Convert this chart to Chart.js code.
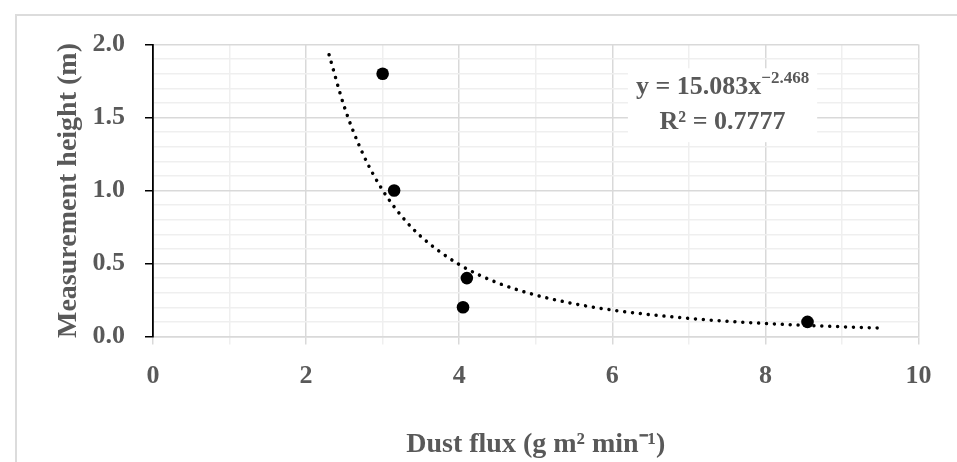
<!DOCTYPE html>
<html>
<head>
<meta charset="utf-8">
<script src="https://cdn.jsdelivr.net/npm/chart.js@4.4.0/dist/chart.umd.min.js"></script>
<style>
  html, body { margin: 0; padding: 0; background: #ffffff; }
  #wrap { position: relative; width: 957px; height: 462px; overflow: hidden; }
  #frame { position: absolute; left: 15px; top: 14px; width: 2000px; height: 2000px;
           border-left: 2px solid #dcdcdc; border-top: 2px solid #dcdcdc; }
  canvas { position: absolute; left: 0; top: 0; }
</style>
</head>
<body>
<div id="wrap">
  <div id="frame"></div>
  <canvas id="c" width="957" height="462"></canvas>
</div>
<script>
// ---- data ----
const fluxValues   = [3.0, 3.15, 4.1, 4.05, 8.55];
const heightValues = [1.8, 1.0, 0.4, 0.2, 0.1];
// dotted power trendline
const trendX = [2.3, 2.5, 2.75, 3.0, 3.25, 3.5, 4.0, 4.5, 5.0, 5.5, 6.0, 7.0, 8.0, 9.0, 9.5];
const trendY = [1.930, 1.572, 1.242, 1.002, 0.823, 0.685, 0.493, 0.368, 0.284, 0.2245, 0.181, 0.124, 0.0891, 0.0666, 0.0583];
const xTickLabels = ['0', '2', '4', '6', '8', '10'];
const yTickLabels = ['0.0', '0.5', '1.0', '1.5', '2.0'];
const xTitle = 'Dust flux (g m² min⁻¹)';
const yTitle = 'Measurement height (m)';
const eqMain = 'y = 15.083x';
const eqExp = '−2.468';
const eqR2 = 'R² = 0.7777';
const eqAnchor = { x: 7.44, y1: 1.707, y2: 1.468 };

const TEXT = '#595959';
const FONT = "'Liberation Serif', 'Times New Roman', serif";
const MAJOR = '#d9d9d9';
const MINOR = '#efefef';

const scatterPts = fluxValues.map((v, i) => ({ x: v, y: heightValues[i] }));
const trendPts = trendX.map((v, i) => ({ x: v, y: trendY[i] }));

const isMajorY = v => Math.abs(v * 2 - Math.round(v * 2)) < 1e-6;
const isMajorX = v => Math.abs(v / 2 - Math.round(v / 2)) < 1e-6;

const equationPlugin = {
  id: 'equation',
  afterDatasetsDraw(chart) {
    const { ctx, scales: { x, y } } = chart;
    const cx = x.getPixelForValue(eqAnchor.x);
    const y1 = y.getPixelForValue(eqAnchor.y1);
    const y2 = y.getPixelForValue(eqAnchor.y2);
    ctx.save();
    const mainFont = `bold 26px ${FONT}`;
    const supFont = `bold 17px ${FONT}`;
    ctx.font = mainFont;
    const wMain = ctx.measureText(eqMain).width;
    const wR2 = ctx.measureText(eqR2).width;
    ctx.font = supFont;
    const wExp = ctx.measureText(eqExp).width;
    const w1 = wMain + wExp;
    const bw = Math.max(w1, wR2) + 16;
    const top = y1 - 19, bottom = y2 + 20;
    ctx.fillStyle = '#ffffff';
    ctx.fillRect(cx - bw / 2, top, bw, bottom - top);
    ctx.fillStyle = TEXT;
    ctx.textBaseline = 'middle';
    ctx.textAlign = 'left';
    ctx.font = mainFont;
    const sx = cx - w1 / 2;
    ctx.fillText(eqMain, sx, y1);
    ctx.font = supFont;
    ctx.fillText(eqExp, sx + wMain, y1 - 9);
    ctx.font = mainFont;
    ctx.textAlign = 'center';
    ctx.fillText(eqR2, cx, y2);
    ctx.restore();
  }
};

new Chart(document.getElementById('c'), {
  type: 'scatter',
  data: {
    datasets: [
      {
        label: 'Measured',
        data: scatterPts,
        backgroundColor: '#000000',
        borderColor: '#000000',
        pointRadius: 6.3,
        pointHoverRadius: 6.3,
        borderWidth: 0
      },
      {
        label: 'Power trend',
        type: 'line',
        data: trendPts,
        showLine: true,
        borderColor: '#000000',
        borderWidth: 3.5,
        borderDash: [0.01, 7.9],
        borderCapStyle: 'round',
        pointRadius: 0,
        fill: false,
        cubicInterpolationMode: 'monotone'
      }
    ]
  },
  options: {
    responsive: false,
    animation: false,
    devicePixelRatio: 1,
    layout: { padding: { left: 0, right: 38.5, top: 44.5, bottom: 0 } },
    plugins: { legend: { display: false }, tooltip: { enabled: false } },
    scales: {
      x: {
        type: 'linear',
        min: 0, max: 10,
        afterFit(s) { s.height = 125.5; },
        border: { display: true, color: MAJOR, width: 1.5 },
        grid: {
          color: c => (c.tick && isMajorX(c.tick.value)) ? MAJOR : MINOR,
          tickColor: c => (c.tick && isMajorX(c.tick.value)) ? MAJOR : MINOR,
          lineWidth: 1.5,
          tickLength: 8,
          drawTicks: true
        },
        ticks: {
          stepSize: 1,
          autoSkip: false,
          maxRotation: 0,
          padding: 16,
          color: TEXT,
          font: { family: FONT, size: 26, weight: 'bold' },
          callback: v => isMajorX(v) ? xTickLabels[Math.round(v / 2)] : ''
        },
        title: {
          display: true,
          text: xTitle,
          color: TEXT,
          font: { family: FONT, size: 28, weight: 'bold' },
          padding: { top: 0, bottom: 0 }
        }
      },
      y: {
        type: 'linear',
        min: 0, max: 2,
        afterFit(s) { s.width = 153; },
        border: { display: true, color: '#000000', width: 1.8 },
        grid: {
          color: c => (c.tick && isMajorY(c.tick.value)) ? MAJOR : MINOR,
          tickColor: c => (c.tick && isMajorY(c.tick.value)) ? '#000000' : 'rgba(0,0,0,0)',
          lineWidth: 1.5,
          tickLength: 8,
          drawTicks: true
        },
        ticks: {
          stepSize: 0.1,
          autoSkip: false,
          padding: 20,
          color: TEXT,
          font: { family: FONT, size: 26, weight: 'bold' },
          callback: v => isMajorY(v) ? yTickLabels[Math.round(v * 2)] : ''
        },
        title: {
          display: true,
          text: yTitle,
          color: TEXT,
          font: { family: FONT, size: 28, weight: 'bold' },
          padding: { top: 52, bottom: 0 }
        }
      }
    }
  },
  plugins: [equationPlugin]
});
</script>
</body>
</html>
